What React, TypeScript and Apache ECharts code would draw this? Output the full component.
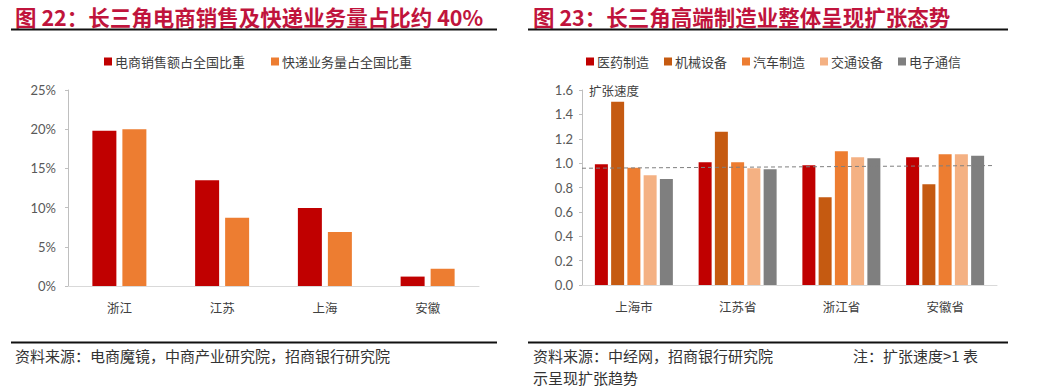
import React, { useEffect, useRef } from "react";
import * as echarts from "echarts";

// ---- Left chart data (图22) ----
const leftCategories = ["浙江", "江苏", "上海", "安徽"];
const ecomShare = [19.8, 13.5, 9.95, 1.2];
const expressShare = [20.0, 8.7, 6.9, 2.2];
const leftSeriesNames = ["电商销售额占全国比重", "快递业务量占全国比重"];

// ---- Right chart data (图23) ----
const rightCategories = ["上海市", "江苏省", "浙江省", "安徽省"];
const pharma = [0.99, 1.007, 0.982, 1.048];
const machinery = [1.504, 1.258, 0.72, 0.826];
const auto = [0.962, 1.007, 1.097, 1.072];
const transport = [0.9, 0.957, 1.048, 1.072];
const electronics = [0.87, 0.949, 1.04, 1.061];
const rightSeriesNames = ["医药制造", "机械设备", "汽车制造", "交通设备", "电子通信"];
const refLine = [
  [0, 0.958],
  [1, 0.98],
];

const titleLeft = "图 22：长三角电商销售及快递业务量占比约 40%";
const titleRight = "图 23：长三角高端制造业整体呈现扩张态势";
const sourceLeft = "资料来源：电商魔镜，中商产业研究院，招商银行研究院";
const sourceRight1 = "资料来源：中经网，招商银行研究院";
const noteRight1 = "注：扩张速度>1 表";
const sourceRight2 = "示呈现扩张趋势";

const TITLE_COLOR = "#C0143C";
const CJK = '"Noto Sans CJK SC", sans-serif';
const NUM = 'Lato, "Noto Sans", sans-serif';

export default function App() {
  const ref = useRef<HTMLDivElement>(null);
  useEffect(() => {
    if (!ref.current) return;
    const chart = echarts.init(ref.current, undefined, { renderer: "svg" });
    const txt = (x: number, y: number, text: string, font: string, fill: string) => ({
      type: "text",
      x,
      y,
      silent: true,
      style: { text, font, fill, textVerticalAlign: "middle", verticalAlign: "middle", textAlign: "left", align: "left" },
    });
    const hline = (x1: number, x2: number, y: number, w: number) => ({
      type: "line",
      silent: true,
      shape: { x1, y1: y, x2, y2: y },
      style: { stroke: "#111", lineWidth: w },
    });
    const yAxisCommon = {
      type: "value",
      axisLine: { show: true, lineStyle: { color: "#BFBFBF", width: 1 } },
      axisTick: { show: true, length: 3, lineStyle: { color: "#BFBFBF" } },
      splitLine: { show: false },
      axisLabel: { color: "#595959", fontSize: 13, fontFamily: NUM },
    };
    const xAxisCommon = {
      type: "category",
      axisLine: { show: true, lineStyle: { color: "#D9D9D9", width: 1 } },
      axisTick: { show: false },
      axisLabel: { color: "#404040", fontSize: 12.5, fontFamily: CJK, margin: 15 },
    };
    const rightColors = ["#C00000", "#C55A11", "#ED7D31", "#F4B183", "#7F7F7F"];
    const rightData = [pharma, machinery, auto, transport, electronics];
    const legendText = { color: "#404040", fontSize: 13, fontFamily: CJK, padding: [0, 0, 0, -2] };
    const footFont = `15px ${CJK}`;

    chart.setOption({
      animation: false,
      backgroundColor: "#fff",
      textStyle: { fontFamily: CJK },
      legend: [
        {
          data: leftSeriesNames,
          left: 104,
          top: 55,
          padding: 0,
          itemWidth: 8,
          itemHeight: 8,
          itemGap: 26,
          icon: "rect",
          textStyle: legendText,
        },
        {
          data: rightSeriesNames,
          left: 586,
          top: 55,
          padding: 0,
          itemWidth: 8,
          itemHeight: 8,
          itemGap: 15,
          icon: "rect",
          textStyle: legendText,
        },
      ],
      grid: [
        { left: 68, top: 90, width: 411, height: 196 },
        { left: 582, top: 90, width: 415, height: 195 },
      ],
      xAxis: [
        { ...xAxisCommon, gridIndex: 0, data: leftCategories },
        { ...xAxisCommon, gridIndex: 1, data: rightCategories },
        { type: "value", gridIndex: 1, min: 0, max: 1.01, show: false },
      ],
      yAxis: [
        {
          ...yAxisCommon,
          gridIndex: 0,
          min: 0,
          max: 25,
          interval: 5,
          axisLabel: { ...yAxisCommon.axisLabel, margin: 12, formatter: (v: number) => `${v}%` },
        },
        {
          ...yAxisCommon,
          gridIndex: 1,
          min: 0,
          max: 1.6,
          interval: 0.2,
          axisLabel: { ...yAxisCommon.axisLabel, margin: 9, formatter: (v: number) => v.toFixed(1) },
        },
      ],
      series: [
        {
          type: "bar",
          name: leftSeriesNames[0],
          xAxisIndex: 0,
          yAxisIndex: 0,
          data: ecomShare,
          barWidth: 24,
          barGap: "25%",
          itemStyle: { color: "#C00000" },
        },
        {
          type: "bar",
          name: leftSeriesNames[1],
          xAxisIndex: 0,
          yAxisIndex: 0,
          data: expressShare,
          barWidth: 24,
          barGap: "25%",
          itemStyle: { color: "#ED7D31" },
        },
        ...rightSeriesNames.map((n, i) => ({
          type: "bar",
          name: n,
          xAxisIndex: 1,
          yAxisIndex: 1,
          data: rightData[i],
          barWidth: 13,
          barGap: "25%",
          itemStyle: { color: rightColors[i] },
        })),
        {
          type: "line",
          name: "ref",
          xAxisIndex: 2,
          yAxisIndex: 1,
          data: refLine,
          symbol: "none",
          silent: true,
          lineStyle: { color: "#7F7F7F", width: 1, type: [4, 3] },
          z: 5,
        },
      ],
      graphic: [
        txt(15, 16, titleLeft, `bold 21.5px ${CJK}`, TITLE_COLOR),
        txt(533, 16, titleRight, `bold 21.5px ${CJK}`, TITLE_COLOR),
        hline(11, 497, 29.5, 2),
        hline(528, 1008, 29.5, 2),
        txt(589, 90, "扩张速度", `12.5px ${CJK}`, "#404040"),
        hline(11, 497, 342.5, 2),
        hline(528, 1008, 342.5, 2),
        txt(15, 355.5, sourceLeft, footFont, "#333"),
        txt(533, 355.5, sourceRight1, footFont, "#333"),
        txt(853, 355.5, noteRight1, footFont, "#333"),
        txt(533, 377.5, sourceRight2, footFont, "#333"),
      ],
    });
    return () => chart.dispose();
  }, []);
  return (
    <div
      ref={ref}
      style={{ position: "fixed", left: 0, top: 0, width: 1049, height: 389, background: "#fff" }}
    />
  );
}
